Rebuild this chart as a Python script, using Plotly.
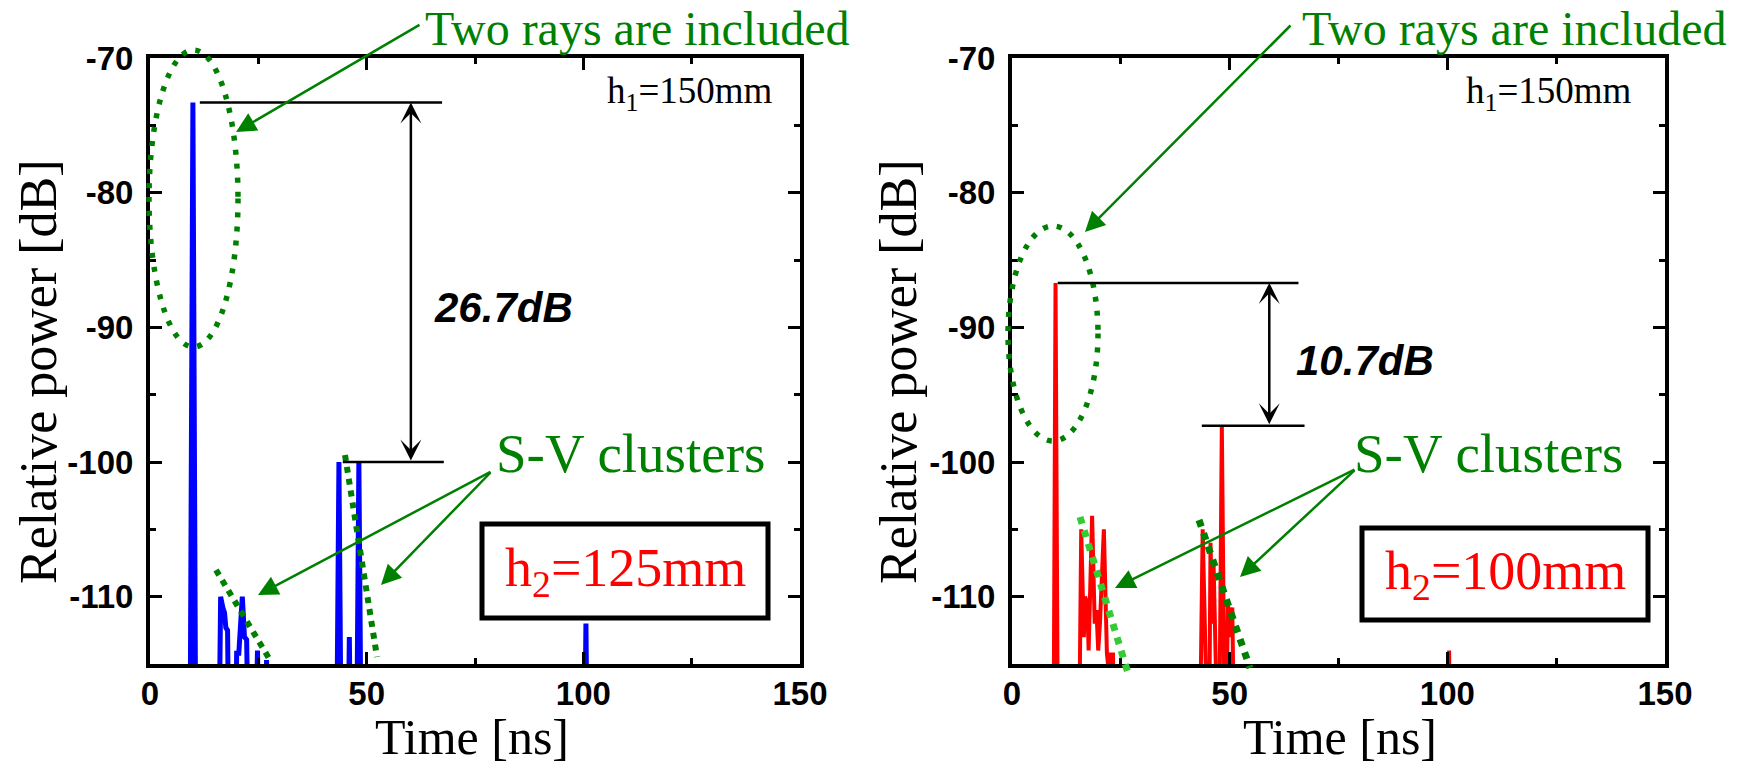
import plotly.graph_objects as go

W, H = 1742, 765

# ---------------- data ----------------
# Left panel: h2 = 125 mm (blue)
t_h125 = [0, 9.2, 9.9, 10.6,
          15.8, 16.3, 16.8, 17.2, 17.5, 17.9, 18.3,
          19.6, 20.0, 20.5, 21.3, 21.8, 22.3, 22.9,
          24.2, 24.8, 25.4,
          26.6, 26.9, 27.2,
          43.0, 43.6, 44.2,
          45.6, 46.0, 46.4,
          47.6, 48.2, 48.8,
          100.2, 100.6, 101.0,
          150]
p_h125 = [-130, -125, -73.3, -125,
          -125, -110, -110.8, -111.2, -112.3, -112.5, -125,
          -125, -114.2, -114.2, -110, -113, -113.2, -125,
          -125, -114, -125,
          -125, -114.7, -125,
          -125, -100, -125,
          -125, -113, -125,
          -125, -100, -125,
          -125, -112, -125,
          -130]

# Right panel: h2 = 100 mm (red)
t_h100 = [0, 9.5, 10.0, 10.6,
          15.3, 15.9, 16.5, 16.8, 17.3, 17.6, 18.4, 19.0, 19.4, 19.8, 20.2, 21.1, 21.8, 22.2, 22.5, 23.2, 23.6,
          43.0, 43.8, 44.6,
          45.2, 45.6, 46.0, 46.3, 46.8,
          47.5, 48.2, 48.8,
          49.0, 49.6, 50.1, 50.6, 51.2,
          100.0, 100.4, 100.8,
          150]
p_h100 = [-130, -125, -86.7, -125,
          -125, -105, -113, -110, -110.5, -114, -104, -112, -111, -114, -112, -105, -114.2, -115.5, -114.3, -114.3, -125,
          -125, -105, -125,
          -125, -106, -112, -107.5, -125,
          -125, -97.3, -125,
          -125, -110.5, -113, -110.8, -125,
          -125, -114, -125,
          -130]

x_ticks = [0, 50, 100, 150]
y_ticks = [-110, -100, -90, -80, -70]
x_range = [0, 150]
y_range = [-115, -70]

peak_left = [-73.3, -100.0]
peak_right = [-86.7, -97.3]
diff_labels = ["26.7dB", "10.7dB"]
h2_labels = ["h<sub>2</sub>=125mm", "h<sub>2</sub>=100mm"]

SERIF = "Liberation Serif"
SANS = "Liberation Sans"
GREEN = "#008000"
LGREEN = "#33cc33"

def P(x):
    return x / W

def Q(y):
    return 1 - y / H

fig = go.Figure()
fig.add_trace(go.Scatter(x=t_h125, y=p_h125, mode="lines",
                         line=dict(color="#0000ff", width=5), xaxis="x", yaxis="y"))
fig.add_trace(go.Scatter(x=t_h100, y=p_h100, mode="lines",
                         line=dict(color="#ff0000", width=4), xaxis="x2", yaxis="y2"))

ydom = [Q(664), Q(58)]
axis_common = dict(showline=True, linewidth=4, linecolor="black", mirror="ticks",
                   ticks="inside", ticklen=12, tickwidth=3, tickcolor="black",
                   showgrid=False, zeroline=False,
                   tickfont=dict(family=SANS, size=33, color="black", weight="bold"))
xaxis_common = dict(axis_common, range=x_range, tickmode="array", tickvals=x_ticks,
                    ticktext=[str(v) for v in x_ticks], ticklabelstandoff=-3,
                    minor=dict(ticks="inside", ticklen=6, tickwidth=3, dtick=25, tick0=0,
                               tickcolor="black", showgrid=False))
yaxis_common = dict(axis_common, range=y_range, tickmode="array", tickvals=y_ticks,
                    ticktext=[str(v) for v in y_ticks], ticklabelstandoff=6,
                    minor=dict(ticks="inside", ticklen=6, tickwidth=3, dtick=5, tick0=-70,
                               tickcolor="black", showgrid=False))

fig.update_layout(
    width=W, height=H,
    margin=dict(l=0, r=0, t=0, b=0, autoexpand=False),
    paper_bgcolor="white", plot_bgcolor="white",
    showlegend=False,
    xaxis=dict(xaxis_common, domain=[P(150), P(800)], anchor="y"),
    yaxis=dict(yaxis_common, domain=ydom, anchor="x"),
    xaxis2=dict(xaxis_common, domain=[P(1012), P(1665)], anchor="y2"),
    yaxis2=dict(yaxis_common, domain=ydom, anchor="x2"),
)

shapes = []
annotations = []

# dotted ellipses ("Two rays are included")
for (x0, x1, y0, y1) in [(149, 238, 50, 347), (1008, 1098, 226, 441)]:
    shapes.append(dict(type="circle", xref="paper", yref="paper",
                       x0=P(x0), x1=P(x1), y0=Q(y1), y1=Q(y0),
                       line=dict(color=GREEN, width=5.5, dash="5px,9px")))

# dotted S-V cluster decay lines
for (xa, ya, xb, yb, col, w) in [(216, 570, 270, 660, GREEN, 6),
                                 (345, 455, 377, 657, GREEN, 6),
                                 (1080, 517, 1128, 673, LGREEN, 7),
                                 (1199, 520, 1250, 668, GREEN, 7)]:
    shapes.append(dict(type="line", xref="paper", yref="paper",
                       x0=P(xa), y0=Q(ya), x1=P(xb), y1=Q(yb),
                       line=dict(color=col, width=w, dash="%dpx,%dpx" % (w, w))))

# black reference lines
for (xr, yr, xs, top, bot) in [("x", "y", [(11.5, 67.4), (44.5, 67.8)], peak_left[0], peak_left[1]),
                               ("x2", "y2", [(10.5, 65.8), (43.6, 67.2)], peak_right[0], peak_right[1])]:
    for (xa, xb), yv in zip(xs, [top, bot]):
        shapes.append(dict(type="line", xref=xr, yref=yr, x0=xa, x1=xb, y0=yv, y1=yv,
                           line=dict(color="black", width=2.5)))

# h2 boxes
for (x0, x1, y0, y1) in [(482, 768, 524, 618), (1362, 1648, 528, 620)]:
    shapes.append(dict(type="rect", xref="paper", yref="paper",
                       x0=P(x0), x1=P(x1), y0=Q(y1), y1=Q(y0),
                       line=dict(color="black", width=5), fillcolor="white"))

# double arrows
for (xr, yr, xa, top, bot) in [("x", "y", 60.2, peak_left[0], peak_left[1]),
                               ("x2", "y2", 59.1, peak_right[0], peak_right[1])]:
    annotations.append(dict(xref=xr, yref=yr, axref=xr, ayref=yr, x=xa, y=top, ax=xa, ay=bot,
                            text="", showarrow=True, arrowhead=3, startarrowhead=3,
                            arrowside="end+start", arrowsize=1.4, startarrowsize=1.4,
                            arrowwidth=2.5, arrowcolor="black", standoff=0, startstandoff=0))

# green arrows (tail, tip) in pixels
for (tx, ty, hx, hy) in [(421, 24, 236, 132), (1292, 24, 1085, 232),
                         (492, 471, 258, 595), (492, 471, 381, 585),
                         (1356, 469, 1115, 588), (1356, 469, 1240, 577)]:
    annotations.append(dict(xref="paper", yref="paper", x=P(hx), y=Q(hy),
                            ax=tx - hx, ay=ty - hy, axref="pixel", ayref="pixel",
                            text="", showarrow=True, arrowhead=2, arrowsize=1.6,
                            arrowwidth=2.5, arrowcolor=GREEN, standoff=0))

def txt(s, x, y, size, color="black", family=SERIF, angle=0, **kw):
    annotations.append(dict(xref="paper", yref="paper", x=P(x), y=Q(y), text=s,
                            showarrow=False, xanchor="center", yanchor="middle",
                            textangle=angle,
                            font=dict(family=family, size=size, color=color, **kw)))

txt("Two rays are included", 637, 29, 48, GREEN)
txt("Two rays are included", 1514, 29, 48, GREEN)
txt("h<sub>1</sub>=150mm", 690, 93, 37)
txt("h<sub>1</sub>=150mm", 1549, 93, 37)
txt(h2_labels[0], 625, 571, 54, "#ff0000")
txt(h2_labels[1], 1505, 574, 54, "#ff0000")
txt(diff_labels[0], 503, 307, 42, "black", SANS, weight="bold", style="italic")
txt(diff_labels[1], 1365, 360, 42, "black", SANS, weight="bold", style="italic")
txt("S-V clusters", 630, 453, 55, GREEN)
txt("S-V clusters", 1488, 453, 55, GREEN)
txt("Relative power [dB]", 38, 372, 52, angle=-90)
txt("Relative power [dB]", 898, 372, 52, angle=-90)
txt("Time [ns]", 472, 737, 50)
txt("Time [ns]", 1340, 737, 50)

fig.update_layout(shapes=shapes, annotations=annotations)
fig.write_html("out.html")
